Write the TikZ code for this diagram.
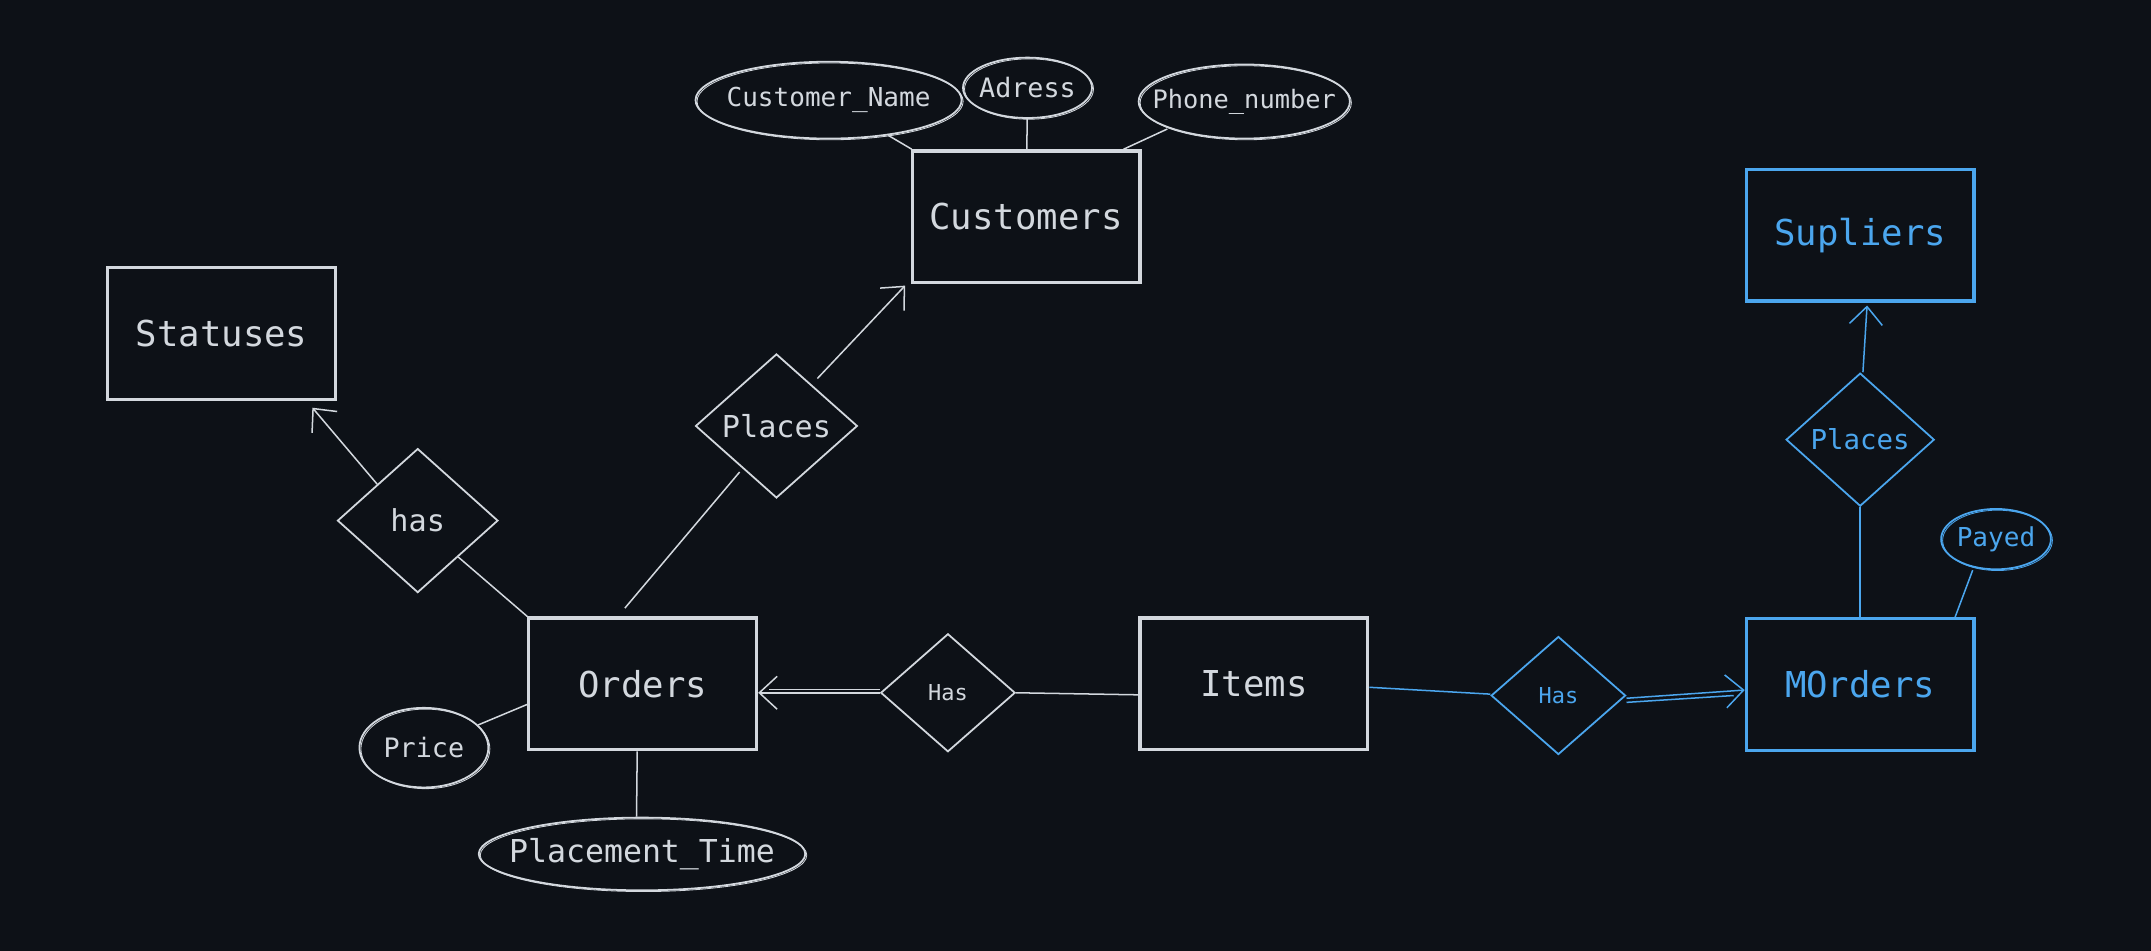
\documentclass[tikz,border=0pt]{standalone}
\usepackage{fontspec}
\setmonofont{DejaVu Sans Mono}
\usetikzlibrary{arrows.meta,shapes.geometric}
\definecolor{bg}{HTML}{0D1117}
\definecolor{ink}{HTML}{D3D8DE}
\definecolor{sky}{HTML}{4BA6EE}
\newcommand{\fs}[1]{\ttfamily\fontsize{#1}{#1}\selectfont}
\tikzset{
  sketch/.style={postaction={draw, line width=0.6pt, transform canvas={shift={(1.1pt,-0.9pt)}}}},
  entity/.style={rectangle, draw, line width=2.4pt, minimum width=166pt, minimum height=96pt,
    inner sep=0pt, font=\fs{26}},
  relation/.style={diamond, draw, line width=1.3pt, inner sep=0pt},
  attr/.style={ellipse, draw, line width=1.3pt, inner sep=0pt, sketch},
  whiteish/.style={draw=ink, text=ink},
  blueish/.style={draw=sky, text=sky},
  inktext/.style={text=ink, inner sep=0pt},
  skytext/.style={text=sky, inner sep=0pt},
  link/.style={draw=ink, line width=1.1pt},
  bluelink/.style={draw=sky, line width=1.1pt},
  tip/.style={-{Straight Barb[length=13pt,width=24pt,line width=1.1pt]}},
}
\begin{document}
\begin{tikzpicture}[x=1pt,y=-1pt]
\useasboundingbox[fill=bg] (0,0) rectangle (1568,693);

% entities
\node[entity, whiteish] (cust) at (748,158) {Customers};
\node[entity, whiteish] (st)   at (161.5,243) {Statuses};
\node[entity, whiteish] (ord)  at (468.5,498.5) {Orders};
\node[entity, whiteish] (it)   at (914,498.5) {Items};
\node[entity, blueish]  (sup)  at (1356,171.5) {Supliers};
\node[entity, blueish]  (mo)   at (1356,499) {MOrders};

% relationships
\node[relation, whiteish, minimum width=118pt, minimum height=105pt, font=\fs{22}] (pl) at (566,310.5) {Places};
\node[relation, whiteish, minimum width=117pt, minimum height=105pt, font=\fs{22}] (has) at (304.5,379.5) {has};
\node[relation, whiteish, minimum width=98pt, minimum height=86pt, font=\fs{16}] (hasi) at (691,505) {Has};
\node[relation, blueish, minimum width=98pt, minimum height=86pt, font=\fs{16}] (hasb) at (1136,507) {Has};
\node[relation, blueish, minimum width=108pt, minimum height=97pt, font=\fs{20}] (plb) at (1356,320.5) {Places};

% attributes: the ellipse keeps its size, the name sits on top as a centred label
\node[attr, whiteish, minimum width=194pt, minimum height=56pt,
  label={[inktext, font=\fs{19}]center:Customer\_Name}] (cn) at (604,73) {};
\node[attr, whiteish, minimum width=94pt, minimum height=44pt,
  label={[inktext, font=\fs{19.5}]center:Adress}] (ad) at (749,64) {};
\node[attr, whiteish, minimum width=154pt, minimum height=54pt,
  label={[inktext, font=\fs{18.5}]center:Phone\_number}] (ph) at (907,74) {};
\node[attr, whiteish, minimum width=94pt, minimum height=58pt,
  label={[inktext, font=\fs{19.5}]center:Price}] (pr) at (309,545) {};
\node[attr, whiteish, minimum width=238pt, minimum height=53pt,
  label={[inktext, font=\fs{23}]center:Placement\_Time}] (pt) at (468,622.5) {};
\node[attr, blueish, minimum width=80pt, minimum height=44pt,
  label={[skytext, font=\fs{19}]center:Payed}] (pay) at (1455,393) {};

% attribute links
\draw[link] (cn) -- (cust);
\draw[link] (ad) -- (cust);
\draw[link] ([shift={(-56pt,-20pt)}]ph.center) -- ([xshift=71pt]cust.north);
\draw[link] ([yshift=-15pt]ord.west) -- (pr);
\draw[link] ([xshift=-4pt]ord.south) -- ([xshift=-4pt]pt.north);
\draw[bluelink] ([xshift=-17pt]pay.south) -- ([xshift=-15pt]mo.north east);

% relationship links
\draw[link, tip] ([yshift=8pt]pl.north east) -- ([shift={(-4pt,-1pt)}]cust.south west);
\draw[link] ([shift={(-13pt,6pt)}]ord.north) -- ([shift={(3pt,-7pt)}]pl.south west);
\draw[link, tip] (has.north west) -- ([shift={(-18pt,-5pt)}]st.south east);
\draw[link] (has.south east) -- (ord.north west);
\draw[link, tip] (hasi.west) -- (hasi.west -| ord.east);
\draw[link] ([yshift=2.5pt]hasi.west) -- ([shift={(8pt,2.5pt)}]hasi.west -| ord.east);
\draw[link] (hasi.east) -- ([yshift=-8pt]it.west);
\draw[bluelink] ([yshift=-2.5pt]it.east) -- ([yshift=1pt]hasb.west);
\draw[bluelink, tip] ([yshift=-2pt]hasb.east) -- ([yshift=-4pt]mo.west);
\draw[bluelink] ([yshift=-5pt]hasb.east) -- ([shift={(-8pt,-8pt)}]mo.west);
\draw[bluelink, tip] ([xshift=2pt]plb.north) -- ([xshift=5pt,yshift=-2pt]sup.south);
\draw[bluelink] (mo.north) -- (plb.south);
\end{tikzpicture}
\end{document}
